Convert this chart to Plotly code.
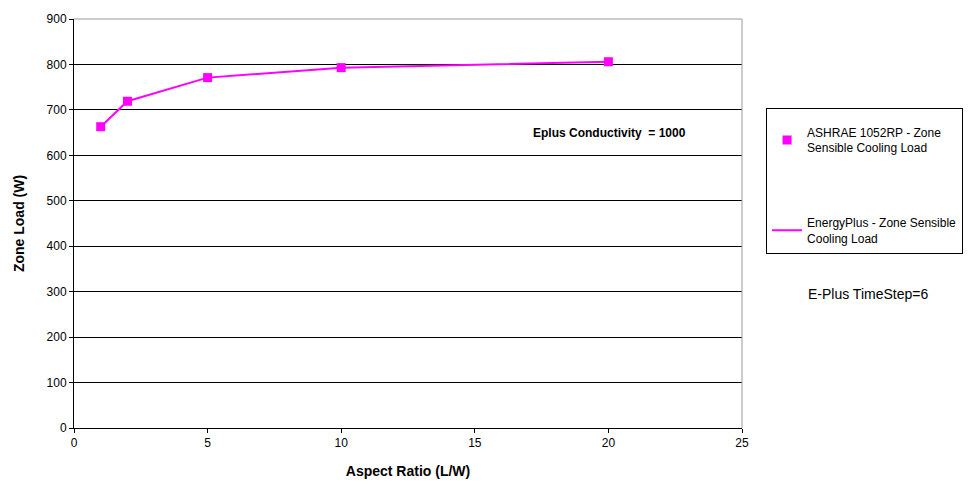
import plotly.graph_objects as go

aspect_ratio = [1, 2, 5, 10, 20]
ashrae_load = [663, 719, 771, 793, 806]
eplus_load = [663, 719, 771, 793, 806]

magenta = "#FF00FF"
font_family = "Liberation Sans, Arial, sans-serif"

fig = go.Figure()
fig.add_trace(go.Scatter(
    x=aspect_ratio, y=ashrae_load, mode="markers",
    name="ASHRAE 1052RP - Zone<br>Sensible Cooling Load",
    marker=dict(symbol="square", size=9, color=magenta),
    legendgroup="a",
))
fig.add_trace(go.Scatter(
    x=aspect_ratio, y=eplus_load, mode="lines",
    name="EnergyPlus - Zone Sensible<br>Cooling Load",
    line=dict(color=magenta, width=2),
    legendgroup="b",
))

fig.update_layout(
    width=977, height=488,
    margin=dict(l=74, r=235, t=12, b=60),
    paper_bgcolor="white", plot_bgcolor="white",
    font=dict(family=font_family, size=12, color="black"),
    showlegend=True,
    legend=dict(
        x=1.036, y=0.783, xanchor="left", yanchor="top",
        bordercolor="black", borderwidth=1,
        font=dict(size=12, family=font_family),
        title=dict(text=" ", font=dict(size=7)),
        tracegroupgap=56, itemwidth=30,
    ),
    xaxis=dict(
        range=[0, 25], tickvals=[0, 5, 10, 15, 20, 25],
        showgrid=False, zeroline=False,
        showline=True, linecolor="black", linewidth=1,
        ticks="outside", ticklen=4, tickcolor="black",
        mirror=False,
        title=dict(text="<b>Aspect Ratio (L/W)</b>", font=dict(size=14), standoff=16),
    ),
    yaxis=dict(
        range=[0, 900], tickvals=list(range(0, 1000, 100)),
        showgrid=True, gridcolor="black", gridwidth=1,
        zeroline=False,
        showline=True, linecolor="black", linewidth=1,
        ticks="outside", ticklen=4, tickcolor="black",
        title=dict(text="<b>Zone Load (W)</b>", font=dict(size=14), standoff=18),
    ),
    shapes=[
        dict(type="line", xref="paper", yref="paper", x0=1, x1=1, y0=0, y1=1,
             line=dict(color="#999999", width=1)),
        dict(type="line", xref="paper", yref="paper", x0=0, x1=1, y0=1, y1=1,
             line=dict(color="#999999", width=1)),
    ],
    annotations=[
        dict(text="<b>Eplus Conductivity  = 1000</b>", x=0.802, y=0.721,
             xref="paper", yref="paper", xanchor="center", yanchor="middle",
             showarrow=False, font=dict(size=12)),
        dict(text="E-Plus TimeStep=6", x=1.189, y=0.327,
             xref="paper", yref="paper", xanchor="center", yanchor="middle",
             showarrow=False, font=dict(size=14)),
    ],
)

fig.write_html("out.html")
